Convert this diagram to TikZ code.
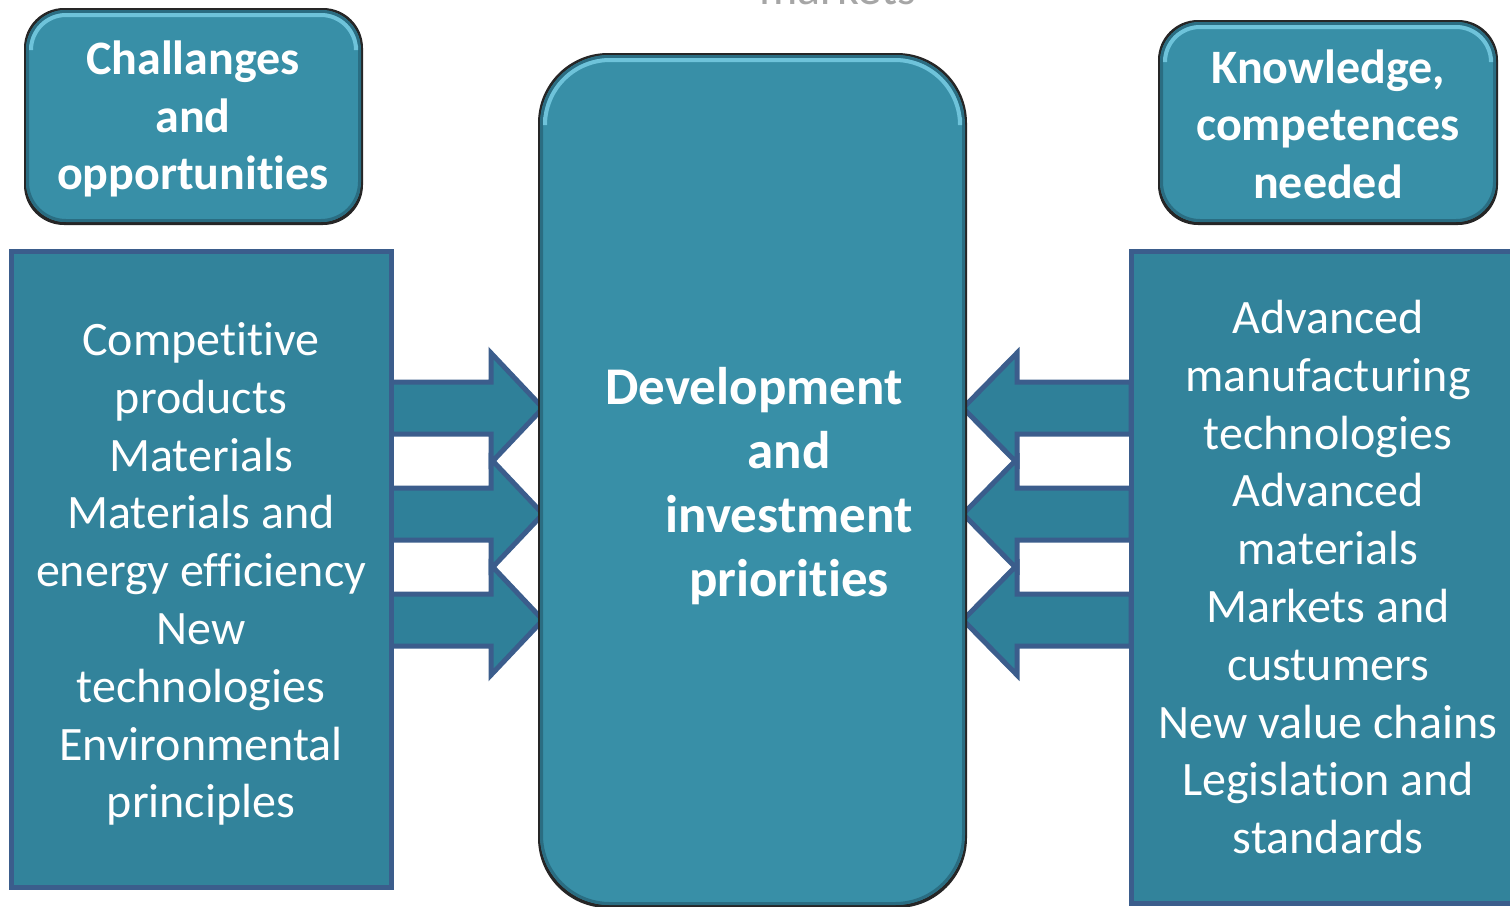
\documentclass[tikz,border=0pt]{standalone}
\usepackage{fontspec}
\setmainfont{Carlito}[Ligatures={NoCommon,NoRare,NoContextual}]
\definecolor{boxfill}{HTML}{388FA7}
\definecolor{boxdark}{HTML}{2A6D82}
\definecolor{boxlight}{HTML}{6EC3DA}
\definecolor{panelfill}{HTML}{32839B}
\definecolor{arrowfill}{HTML}{2F8099}
\definecolor{edgeblue}{HTML}{3B5D8C}
\definecolor{greytext}{HTML}{A6A6A6}
\newcommand\bevbox[5]{%
  \fill[black!85,rounded corners=#5*0.5pt] (#1-2,#2-2) rectangle (#3+2,#4+3);
  \begin{scope}
    \clip[rounded corners=#5*0.5pt] (#1,#2) rectangle (#3,#4);
    \fill[boxfill] (#1,#2) rectangle (#3,#4);
    \draw[boxdark, line width=3pt, rounded corners=#5*0.5pt] (#1,#2) rectangle (#3,#4);
    \draw[boxlight, line width=2pt, line cap=round, rounded corners=#5*0.5pt-2.5pt] (#1+5,#2+#5*0.9) -- (#1+5,#2+5) -- (#3-5,#2+5) -- (#3-5,#2+#5*0.9);
  \end{scope}}
\begin{document}
\begin{tikzpicture}[x=0.5pt,y=-0.5pt,
  every node/.style={text=white, align=center, inner sep=0pt, outer sep=0pt},
  bodytext/.style={font=\fontsize{24}{28.9}\selectfont},
  headtext/.style={font=\bfseries\fontsize{24}{28.75}\selectfont},
  centertext/.style={font=\bfseries\fontsize{26.5}{32}\selectfont},
  barrow/.style={fill=arrowfill, draw=edgeblue, line width=2.5pt, line join=miter},
  panel/.style={fill=panelfill, draw=edgeblue, line width=2.5pt},
]
\useasboundingbox (0,0) rectangle (1510,906);

% partially visible title at the top
\node[text=greytext, font=\fontsize{24}{28.9}\selectfont, anchor=base] (mk) at (838,4) {markets};

% block arrows
\foreach \c in {408,514,620}{
  \draw[barrow] (391,\c-26) -- (491,\c-26) -- (491,\c-55) -- (543,\c) -- (491,\c+55) -- (491,\c+26) -- (391,\c+26) -- cycle;
  \draw[barrow] (1131,\c-26) -- (1017,\c-26) -- (1017,\c-55) -- (963,\c) -- (1017,\c+55) -- (1017,\c+26) -- (1131,\c+26) -- cycle;
}

% side panels
\node[panel, minimum width=190pt, minimum height=318pt] (L) at (201,569) {};
\node[panel, minimum width=197pt, minimum height=326pt] (R) at (1328,577) {};
\node[bodytext] (Ltxt) at (201,574)
  {Competitive\\products\\Materials\\Materials and\\energy efficiency\\New\\technologies\\Environmental\\principles};
\node[bodytext] (Rtxt) at (1328,577)
  {Advanced\\manufacturing\\technologies\\Advanced\\materials\\Markets and\\custumers\\New value chains\\Legislation and\\standards};

% bevelled boxes
\bevbox{26}{10}{361}{222}{40}
\bevbox{1160}{22}{1496}{222}{40}
\bevbox{540}{55}{965}{905}{70}

\node[headtext] (CH) at (193,119) {Challanges\\and\\opportunities};
\node[headtext] (KN) at (1328,124) {Knowledge,\\competences\\needed};
\node[centertext] (DV) at (789,486) {\hspace*{-35pt}Development\\and\\investment\\priorities};
\end{tikzpicture}
\end{document}
